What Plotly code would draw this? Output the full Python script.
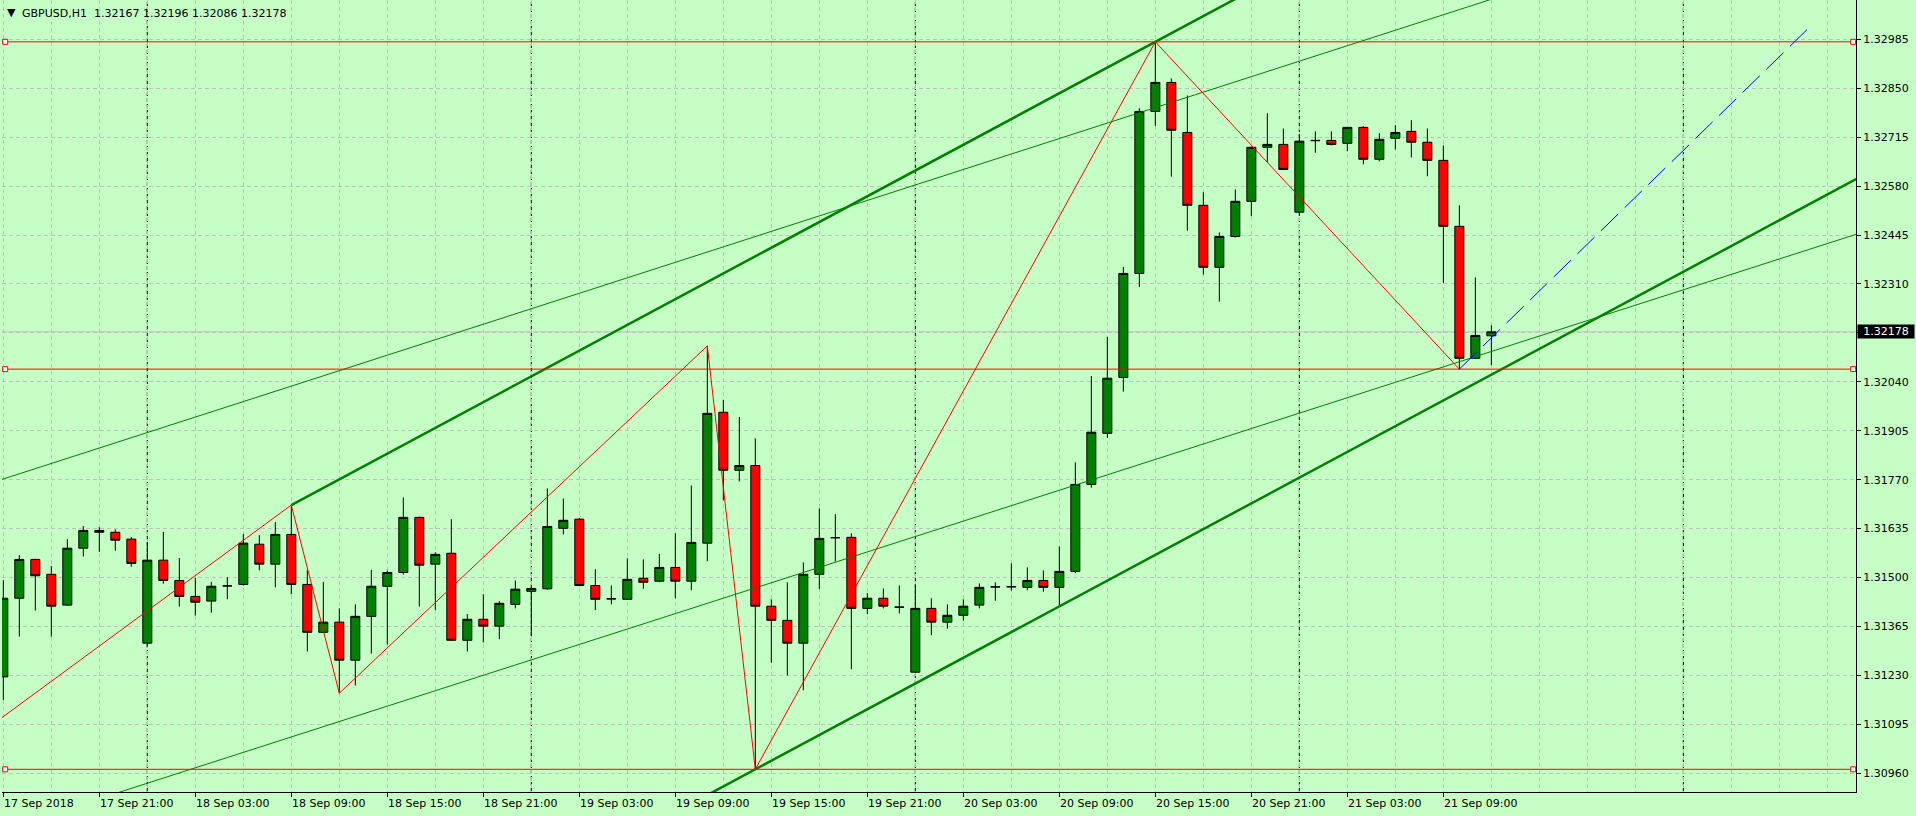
import plotly.graph_objects as go

# ---------------- data (GBPUSD H1, bar 0 = 17 Sep 2018 15:00) ----------------
bar_open = [1.31226, 1.31443, 1.31550, 1.31509, 1.31424, 1.31581, 1.31630, 1.31625, 1.31606, 1.31319,
            1.31548, 1.31492, 1.31448, 1.31435, 1.31477, 1.31481, 1.31592, 1.31537, 1.31619, 1.31481,
            1.31349, 1.31377, 1.31272, 1.31393, 1.31476, 1.31514, 1.31666, 1.31537, 1.31567, 1.31327,
            1.31385, 1.31366, 1.31426, 1.31462, 1.31469, 1.31636, 1.31661, 1.31478, 1.31442, 1.31440,
            1.31498, 1.31490, 1.31528, 1.31490, 1.31595, 1.31956, 1.31796, 1.31809, 1.31421, 1.31382,
            1.31319, 1.31509, 1.31610, 1.31611, 1.31415, 1.31443, 1.31419, 1.31239, 1.31415, 1.31377,
            1.31396, 1.31424, 1.31475, 1.31474, 1.31473, 1.31492, 1.31473, 1.31517, 1.31757, 1.31898,
            1.32052, 1.32339, 1.32786, 1.32866, 1.32728, 1.32527, 1.32356, 1.32441, 1.32538, 1.32687,
            1.32695, 1.32508, 1.32705, 1.32706, 1.32698, 1.32742, 1.32654, 1.32712, 1.32731, 1.32701,
            1.32651, 1.32469, 1.32105, 1.32167]
bar_high = [1.31493, 1.31562, 1.31552, 1.31532, 1.31606, 1.31642, 1.31639, 1.31633, 1.31612, 1.31598,
            1.31626, 1.31554, 1.31499, 1.31488, 1.31501, 1.31620, 1.31617, 1.31653, 1.31700, 1.31521,
            1.31488, 1.31415, 1.31426, 1.31521, 1.31519, 1.31721, 1.31668, 1.31570, 1.31661, 1.31399,
            1.31454, 1.31435, 1.31492, 1.31472, 1.31746, 1.31718, 1.31664, 1.31523, 1.31478, 1.31553,
            1.31550, 1.31565, 1.31622, 1.31754, 1.32139, 1.31990, 1.31943, 1.31884, 1.31440, 1.31487,
            1.31542, 1.31691, 1.31675, 1.31622, 1.31457, 1.31470, 1.31478, 1.31481, 1.31443, 1.31426,
            1.31440, 1.31484, 1.31487, 1.31539, 1.31528, 1.31520, 1.31586, 1.31818, 1.32056, 1.32164,
            1.32357, 1.32795, 1.32978, 1.32877, 1.32830, 1.32563, 1.32452, 1.32571, 1.32689, 1.32781,
            1.32739, 1.32723, 1.32731, 1.32731, 1.32743, 1.32745, 1.32726, 1.32748, 1.32762, 1.32739,
            1.32692, 1.32527, 1.32328, 1.32196]
bar_low = [1.31162, 1.31337, 1.31409, 1.31337, 1.31422, 1.31558, 1.31571, 1.31574, 1.31530, 1.31309,
           1.31483, 1.31420, 1.31395, 1.31403, 1.31440, 1.31478, 1.31520, 1.31473, 1.31454, 1.31296,
           1.31347, 1.31181, 1.31202, 1.31290, 1.31315, 1.31508, 1.31420, 1.31411, 1.31325, 1.31296,
           1.31321, 1.31330, 1.31415, 1.31338, 1.31466, 1.31619, 1.31476, 1.31410, 1.31426, 1.31438,
           1.31469, 1.31487, 1.31443, 1.31465, 1.31545, 1.31713, 1.31765, 1.30971, 1.31265, 1.31230,
           1.31189, 1.31468, 1.31544, 1.31247, 1.31399, 1.31415, 1.31401, 1.31237, 1.31341, 1.31359,
           1.31381, 1.31415, 1.31436, 1.31464, 1.31465, 1.31461, 1.31422, 1.31512, 1.31748, 1.31886,
           1.32013, 1.32302, 1.32746, 1.32606, 1.32457, 1.32336, 1.32261, 1.32438, 1.32497, 1.32646,
           1.32624, 1.32502, 1.32672, 1.32692, 1.32676, 1.32640, 1.32648, 1.32681, 1.32659, 1.32607,
           1.32313, 1.32075, 1.32103, 1.32086]
bar_close = [1.31443, 1.31550, 1.31505, 1.31421, 1.31581, 1.31630, 1.31625, 1.31603, 1.31539, 1.31548,
             1.31492, 1.31448, 1.31432, 1.31476, 1.31477, 1.31595, 1.31537, 1.31619, 1.31481, 1.31349,
             1.31377, 1.31272, 1.31393, 1.31476, 1.31514, 1.31666, 1.31534, 1.31564, 1.31327, 1.31385,
             1.31366, 1.31429, 1.31468, 1.31470, 1.31641, 1.31658, 1.31478, 1.31440, 1.31441, 1.31495,
             1.31487, 1.31528, 1.31490, 1.31597, 1.31953, 1.31796, 1.31809, 1.31421, 1.31382, 1.31319,
             1.31509, 1.31608, 1.31610, 1.31415, 1.31443, 1.31421, 1.31418, 1.31415, 1.31377, 1.31396,
             1.31421, 1.31473, 1.31474, 1.31475, 1.31492, 1.31473, 1.31517, 1.31757, 1.31901, 1.32050,
             1.32339, 1.32786, 1.32866, 1.32734, 1.32527, 1.32356, 1.32441, 1.32538, 1.32687, 1.32695,
             1.32626, 1.32704, 1.32706, 1.32695, 1.32742, 1.32654, 1.32709, 1.32728, 1.32701, 1.32651,
             1.32469, 1.32105, 1.32168, 1.32178]
bars = list(range(len(bar_open)))

x_tick_bars = [0, 6, 12, 18, 24, 30, 36, 42, 48, 54, 60, 66, 72, 78, 84, 90]
x_tick_labels = ["17 Sep 2018", "17 Sep 21:00", "18 Sep 03:00", "18 Sep 09:00", "18 Sep 15:00",
                 "18 Sep 21:00", "19 Sep 03:00", "19 Sep 09:00", "19 Sep 15:00", "19 Sep 21:00",
                 "20 Sep 03:00", "20 Sep 09:00", "20 Sep 15:00", "20 Sep 21:00", "21 Sep 03:00",
                 "21 Sep 09:00"]
y_ticks = [1.30960, 1.31095, 1.31230, 1.31365, 1.31500, 1.31635, 1.31770, 1.31905,
           1.32040, 1.32175, 1.32310, 1.32445, 1.32580, 1.32715, 1.32850, 1.32985]

header_symbol = "GBPUSD,H1"
header_ohlc = [1.32167, 1.32196, 1.32086, 1.32178]
bid_price = 1.32178
separator_bars = [9, 33, 57, 81, 105]

# drawn objects
zigzag_bars = [-1, 18, 21, 44, 47, 72, 91]
zigzag_prices = [1.31084, 1.31700, 1.31181, 1.32139, 1.30971, 1.32978, 1.32075]
hline_prices = [1.32978, 1.32075, 1.30971]
channel_bars = [18, 72]
channel_prices = [1.31700, 1.32978]
channel_parallel_bar = 47
channel_parallel_price = 1.30971
thin_upper_bars = [0, 100]
thin_upper_prices = [1.31772, 1.33195]
thin_lower_bars = [0, 100]
thin_lower_prices = [1.30805, 1.32223]
projection_bars = [91, 112.9]
projection_prices = [1.32075, 1.33019]

x_range = [-0.081, 115.79]
y_range = [1.309084, 1.330934]

BG = "rgb(198,255,198)"
GRID = "#C0C0C0"
GREEN = "#008000"
FONT = "DejaVu Sans"


def extend(xs, ys, xa, xb):
    s = (ys[1] - ys[0]) / (xs[1] - xs[0])
    return [xa, xb], [ys[0] + s * (xa - xs[0]), ys[0] + s * (xb - xs[0])]


fig = go.Figure()
fig.add_trace(go.Candlestick(
    x=bars, open=bar_open, high=bar_high, low=bar_low, close=bar_close,
    increasing=dict(line=dict(color="black", width=1), fillcolor=GREEN),
    decreasing=dict(line=dict(color="black", width=1), fillcolor="#FF0000"),
    whiskerwidth=0, showlegend=False, hoverinfo="skip"))

# thin parallel lines
for bx, py in [(thin_upper_bars, thin_upper_prices), (thin_lower_bars, thin_lower_prices)]:
    lx, ly = extend(bx, py, -5, 125)
    fig.add_trace(go.Scatter(x=lx, y=ly, mode="lines", line=dict(color=GREEN, width=1),
                             showlegend=False, hoverinfo="skip"))

# thick equidistant channel (rays from first anchor)
cx, cy = extend(channel_bars, channel_prices, channel_bars[0], 125)
fig.add_trace(go.Scatter(x=cx, y=cy, mode="lines", line=dict(color=GREEN, width=2.5),
                         showlegend=False, hoverinfo="skip"))
slope = (channel_prices[1] - channel_prices[0]) / (channel_bars[1] - channel_bars[0])
px0 = channel_parallel_price + slope * (channel_bars[0] - channel_parallel_bar)
px1 = channel_parallel_price + slope * (125 - channel_parallel_bar)
fig.add_trace(go.Scatter(x=[channel_bars[0], 125], y=[px0, px1], mode="lines",
                         line=dict(color=GREEN, width=2.5), showlegend=False, hoverinfo="skip"))

# horizontal red lines with end markers
for p in hline_prices:
    fig.add_trace(go.Scatter(x=[x_range[0] - 1, x_range[1] + 1], y=[p, p], mode="lines",
                             line=dict(color="#FF0000", width=1), showlegend=False, hoverinfo="skip"))
    fig.add_trace(go.Scatter(x=[x_range[0] + 3.2 / 16, x_range[1] - 2.8 / 16], y=[p, p], mode="markers",
                             marker=dict(symbol="square", size=5, color="white",
                                         line=dict(color="#FF0000", width=1)),
                             cliponaxis=False, showlegend=False, hoverinfo="skip"))

# zigzag
fig.add_trace(go.Scatter(x=zigzag_bars, y=zigzag_prices, mode="lines",
                         line=dict(color="#FF0000", width=1), showlegend=False, hoverinfo="skip"))
# projection
fig.add_trace(go.Scatter(x=projection_bars, y=projection_prices, mode="lines",
                         line=dict(color="#0000FF", width=1, dash="24px,9px"),
                         showlegend=False, hoverinfo="skip"))

shapes = []
for b in separator_bars:
    shapes.append(dict(type="line", xref="x", yref="paper", x0=b, x1=b, y0=0, y1=1,
                       line=dict(color="black", width=1, dash="4px,2px"), layer="between"))
shapes.append(dict(type="line", xref="paper", yref="y", x0=0, x1=1, y0=bid_price, y1=bid_price,
                   line=dict(color=GRID, width=1), layer="between"))

annotations = []
for b, t in zip(x_tick_bars, x_tick_labels):
    annotations.append(dict(x=b, y=0, xref="x", yref="paper", text=t, showarrow=False,
                            xanchor="left", yanchor="top", yshift=-3, xshift=-1,
                            font=dict(family=FONT, size=11, color="black")))
annotations.append(dict(x=1, y=bid_price, xref="paper", yref="y", text=f"{bid_price:.5f}",
                        showarrow=False, xanchor="left", yanchor="middle", xshift=1,
                        bgcolor="black", borderpad=1, width=54, height=11,
                        font=dict(family=FONT, size=11, color="white")))
annotations.append(dict(x=0, y=1, xref="paper", yref="paper", text="▼", showarrow=False,
                        xanchor="center", yanchor="middle", xshift=9, yshift=-12,
                        font=dict(family=FONT, size=11, color="black")))
annotations.append(dict(x=0, y=1, xref="paper", yref="paper",
                        text=header_symbol + "  " + " ".join(f"{v:.5f}" for v in header_ohlc),
                        showarrow=False, xanchor="left", yanchor="middle", xshift=18, yshift=-13,
                        font=dict(family=FONT, size=11, color="black")))

fig.update_layout(
    width=1916, height=816,
    margin=dict(l=2, r=60, t=0, b=24, pad=0),
    paper_bgcolor=BG, plot_bgcolor=BG,
    font=dict(family=FONT, size=11, color="black"),
    boxgap=0.4375, boxgroupgap=0,
    showlegend=False,
    xaxis=dict(range=x_range, zeroline=False, showline=True, linecolor="black", linewidth=1,
               tickmode="array", tickvals=x_tick_bars, ticks="outside", ticklen=4, tickcolor="black",
               showticklabels=False, showgrid=True, gridcolor=GRID, griddash="4px,3px", gridwidth=1,
               minor=dict(tickmode="linear", tick0=0, dtick=3, showgrid=True, gridcolor=GRID,
                          griddash="4px,3px", gridwidth=1, ticks=""),
               rangeslider=dict(visible=False), fixedrange=True),
    yaxis=dict(range=y_range, side="right", zeroline=False, showline=True, linecolor="black",
               linewidth=1, tickmode="array", tickvals=y_ticks,
               ticktext=["" if abs(v - bid_price) < 0.0001 else f"{v:.5f}" for v in y_ticks],
               ticks="outside", ticklen=4,
               tickcolor="black", showgrid=True, gridcolor=GRID, griddash="4px,3px", gridwidth=1,
               tickfont=dict(family=FONT, size=11, color="black"), fixedrange=True),
    shapes=shapes, annotations=annotations,
)

fig.write_html("out.html", config={"displayModeBar": False},
               post_script="document.body.style.margin='0';document.body.style.overflow='hidden';")
